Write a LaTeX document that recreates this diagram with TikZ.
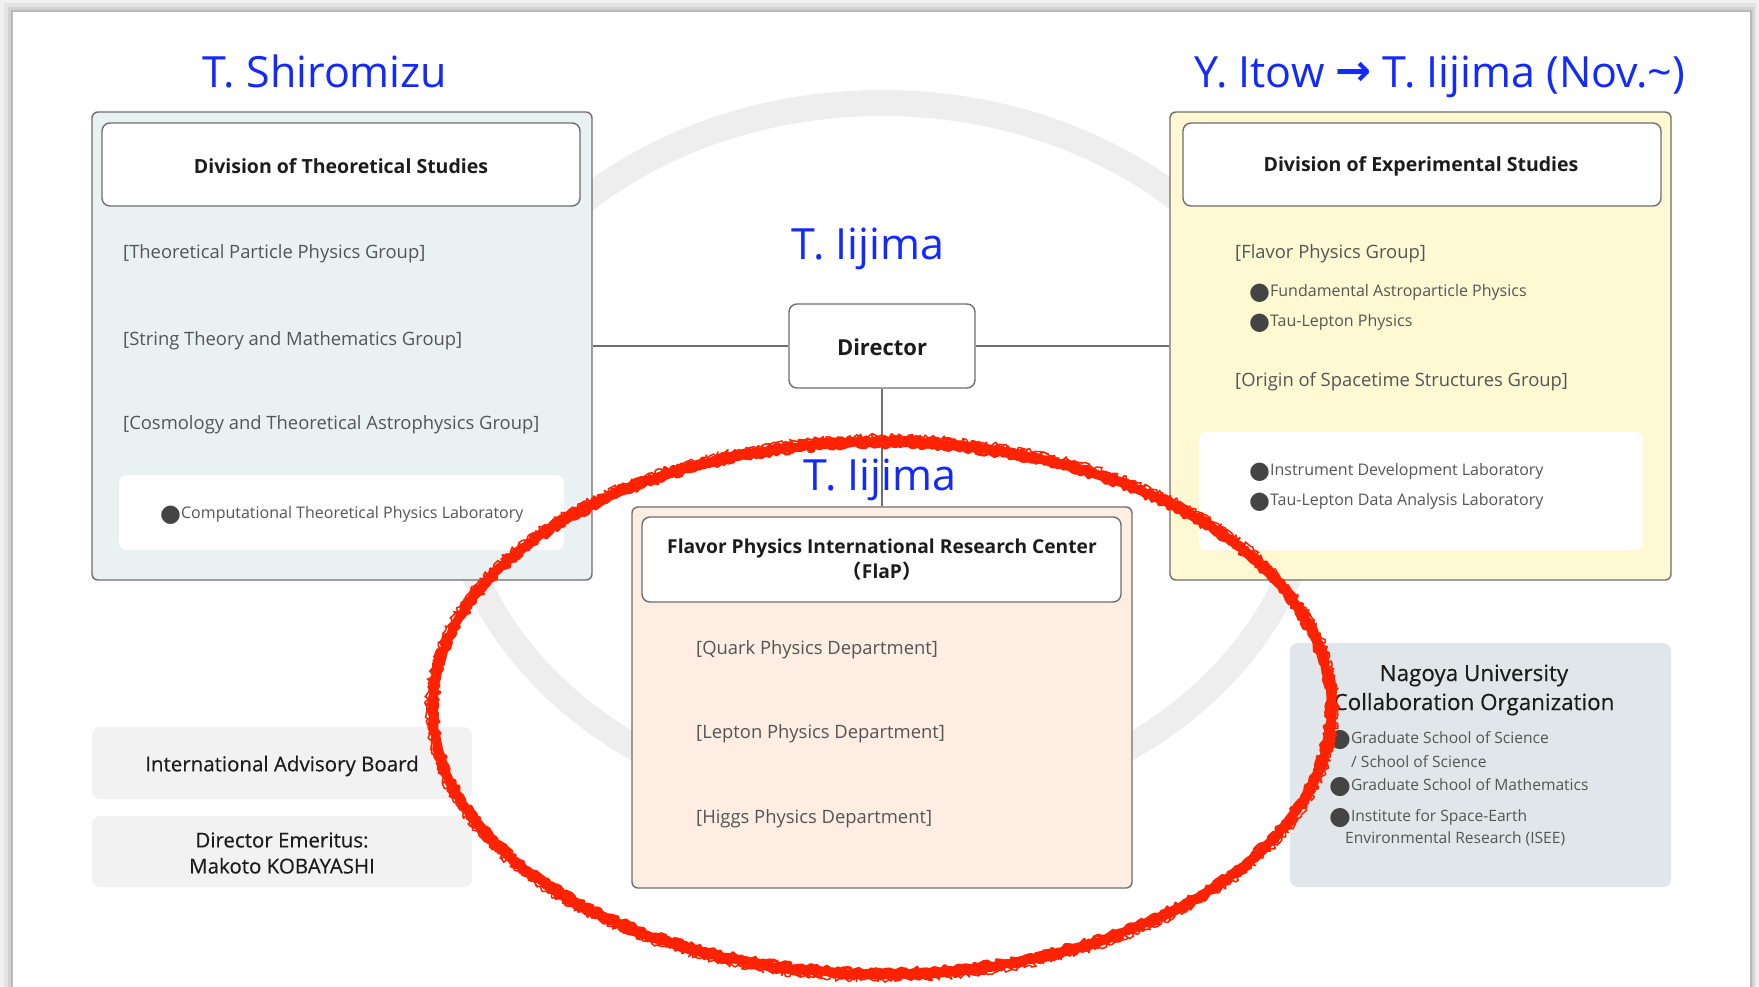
\documentclass[tikz,border=0pt]{standalone}
\usepackage{fontspec}
\setmainfont{Open Sans}
\newfontfamily\titlefont{Open Sans}
\newfontfamily\medfont[FakeBold=0.35]{Open Sans}
\newfontfamily\dejavu{DejaVu Sans}
\newfontfamily\cjkjp{Noto Sans CJK JP}
\usetikzlibrary{decorations.pathmorphing}
\definecolor{bluet}{RGB}{18,42,255}
\definecolor{linec}{HTML}{6E6E6E}
\definecolor{theofill}{HTML}{E9F1F3}
\definecolor{exptfill}{HTML}{FEF9D3}
\definecolor{flapfill}{HTML}{FDEDE3}
\definecolor{greyfill}{HTML}{F2F2F2}
\definecolor{nagfill}{HTML}{E0E6E9}
\definecolor{ringc}{HTML}{EEEEEE}
\definecolor{redc}{HTML}{FF2200}
\definecolor{itemc}{HTML}{555555}
\definecolor{headc}{HTML}{1C1C1C}
\definecolor{bulc}{HTML}{444444}
\newcommand\bul[2]{{\color{bulc}\dejavu\fontsize{#1}{#1}\selectfont\raisebox{#2}{●}}}
\tikzset{
  box/.style={draw=linec, line width=1.4pt, rounded corners=6pt, inner sep=0pt},
  plain/.style={rounded corners=8pt, inner sep=0pt, draw=none},
  title/.style={font=\titlefont\fontsize{43}{46}\selectfont, text=bluet, inner sep=0pt, anchor=base},
  head/.style={font=\bfseries\fontsize{19.5}{22}\selectfont, text=headc, inner sep=0pt},
  grp/.style={font=\fontsize{18.4}{20}\selectfont, text=itemc, inner sep=0pt, anchor=west, text height=0.75em, text depth=0.2em, yshift=-5pt},
  lab/.style={font=\fontsize{16}{18}\selectfont, text=itemc, inner sep=0pt, anchor=west, text height=0.75em, text depth=0.2em, yshift=-3pt},
  nagitem/.style={lab, font=\fontsize{15.6}{18}\selectfont},
  greytext/.style={inner sep=0pt, text=headc, align=center, font=\medfont\fontsize{20.5}{26}\selectfont},
  conn/.style={draw=linec, line width=1.4pt},
  redline/.style={redc, line join=round, line cap=round, decorate}
}
\begin{document}
\begin{tikzpicture}[x=1pt,y=-1pt]
\useasboundingbox (0,0) rectangle (1759,986);
% page and shadow
\fill[gray!12] (0,0) rectangle (1759,986);
\fill[gray!22] (4,3) rectangle (1756,990);
\fill[gray!35] (8,7) rectangle (1754,990);
\fill[gray!55] (11,10) rectangle (1752,990);
\fill[white] (13,12) rectangle (1750,990);
% background ring
\draw[ringc, line width=26pt] (882,457) ellipse [x radius=432pt, y radius=354pt];
% boxes
\node[box, fill=theofill, minimum width=500pt, minimum height=468pt] (theo) at (342,346) {};
\node[box, fill=white, rounded corners=8pt, minimum width=478pt, minimum height=83pt] (theoH) at (341,164.5) {};
\node[plain, fill=white, minimum width=445pt, minimum height=75pt] (theoL) at (341.5,512.5) {};
\node[box, fill=exptfill, minimum width=501pt, minimum height=468pt] (expt) at (1420.5,346) {};
\node[box, fill=white, rounded corners=8pt, minimum width=478pt, minimum height=83pt] (exptH) at (1422,164.5) {};
\node[plain, fill=white, minimum width=444pt, minimum height=118pt] (exptL) at (1421,491) {};
\node[box, fill=white, rounded corners=8pt, minimum width=186pt, minimum height=84pt] (dir) at (882,346) {};
\node[box, fill=flapfill, minimum width=500pt, minimum height=381pt] (flap) at (882,697.5) {};
\node[box, fill=white, rounded corners=8pt, minimum width=479pt, minimum height=85pt] (flapH) at (881.5,559.5) {};
\node[plain, fill=greyfill, minimum width=380pt, minimum height=72pt] (iab) at (282,763) {};
\node[plain, fill=greyfill, minimum width=380pt, minimum height=71pt] (emer) at (282,851.5) {};
\node[plain, fill=nagfill, minimum width=381pt, minimum height=244pt] (nag) at (1480.5,765) {};
% connectors
\draw[conn] (theo.east) -- (dir.west);
\draw[conn] (dir.east) -- (expt.west);
\draw[conn] (dir.south) -- (flap.north);
% titles
\node[title] (t1) at (325,87) {T. Shiromizu};
\node[title] (t2) at (1440,87) {Y. Itow {\dejavu\bfseries\raisebox{2pt}{→}} T. Iijima (Nov.\textasciitilde)};
\node[title] (t3) at (868,259) {T. Iijima};
\node[title] (t4) at (880,490) {T. Iijima};
% theoretical division
\node[head] (theoT) at (341,166) {Division of Theoretical Studies};
\node[grp] (g1) at (123,251) {[Theoretical Particle Physics Group]};
\node[grp] (g2) at (123,338) {[String Theory and Mathematics Group]};
\node[grp] (g3) at (123,422) {[Cosmology and Theoretical Astrophysics Group]};
\node[lab] (l1) at (160,513) {\bul{24pt}{-3pt}Computational Theoretical Physics Laboratory};
% director
\node[head, font=\bfseries\fontsize{22}{24}\selectfont] (dirT) at (882,347) {Director};
% experimental division
\node[head] (exptT) at (1421,166) {Division of Experimental Studies};
\node[grp] (g4) at (1235,251) {[Flavor Physics Group]};
\node[lab] (l2) at (1249,291) {\bul{24pt}{-3pt}Fundamental Astroparticle Physics};
\node[lab] (l3) at (1249,321) {\bul{24pt}{-3pt}Tau-Lepton Physics};
\node[grp] (g5) at (1235,379) {[Origin of Spacetime Structures Group]};
\node[lab] (l4) at (1249,470) {\bul{24pt}{-3pt}Instrument Development Laboratory};
\node[lab] (l5) at (1249,500) {\bul{24pt}{-3pt}Tau-Lepton Data Analysis Laboratory};
% FlaP
\node[head, align=center, font=\bfseries\fontsize{19.2}{25}\selectfont] (flapT) at (882,560) {Flavor Physics International Research Center\\{\cjkjp （}FlaP{\cjkjp ）}};
\node[grp] (d1) at (696,647) {[Quark Physics Department]};
\node[grp] (d2) at (696,731) {[Lepton Physics Department]};
\node[grp] (d3) at (696,816) {[Higgs Physics Department]};
% left grey boxes
\node[greytext] (iabT) at (282,766) {International Advisory Board};
\node[greytext] (emerT) at (282,853) {Director Emeritus:\\Makoto KOBAYASHI};
% Nagoya
\node[greytext, font=\medfont\fontsize{22.4}{29}\selectfont] (nagT) at (1474,690) {Nagoya University\\Collaboration Organization};
\node[nagitem] (n1) at (1329,738) {\bul{25pt}{-3pt}Graduate School of Science};
\node[nagitem] (n2) at (1351,762) {/ School of Science};
\node[nagitem] (n3) at (1329,785) {\bul{25pt}{-3pt}Graduate School of Mathematics};
\node[nagitem] (n4) at (1329,816) {\bul{25pt}{-3pt}Institute for Space-Earth};
\node[nagitem] (n5) at (1345,838) {Environmental Research (ISEE)};
% red hand-drawn ellipse
\pgfmathsetseed{11}
\draw[redline, line width=9pt, decoration={random steps, segment length=5pt, amplitude=1pt}] (882,708) ellipse [x radius=449pt, y radius=266pt];
\draw[redline, line width=3pt, decoration={random steps, segment length=3pt, amplitude=2.2pt}] (882,708) ellipse [x radius=453pt, y radius=270pt];
\draw[redline, line width=3pt, decoration={random steps, segment length=3pt, amplitude=2.2pt}] (882,708) ellipse [x radius=445pt, y radius=262pt];
\draw[redline, line width=1.5pt, decoration={random steps, segment length=2pt, amplitude=2.5pt}] (882,708) ellipse [x radius=455pt, y radius=272pt];
\end{tikzpicture}
\end{document}
